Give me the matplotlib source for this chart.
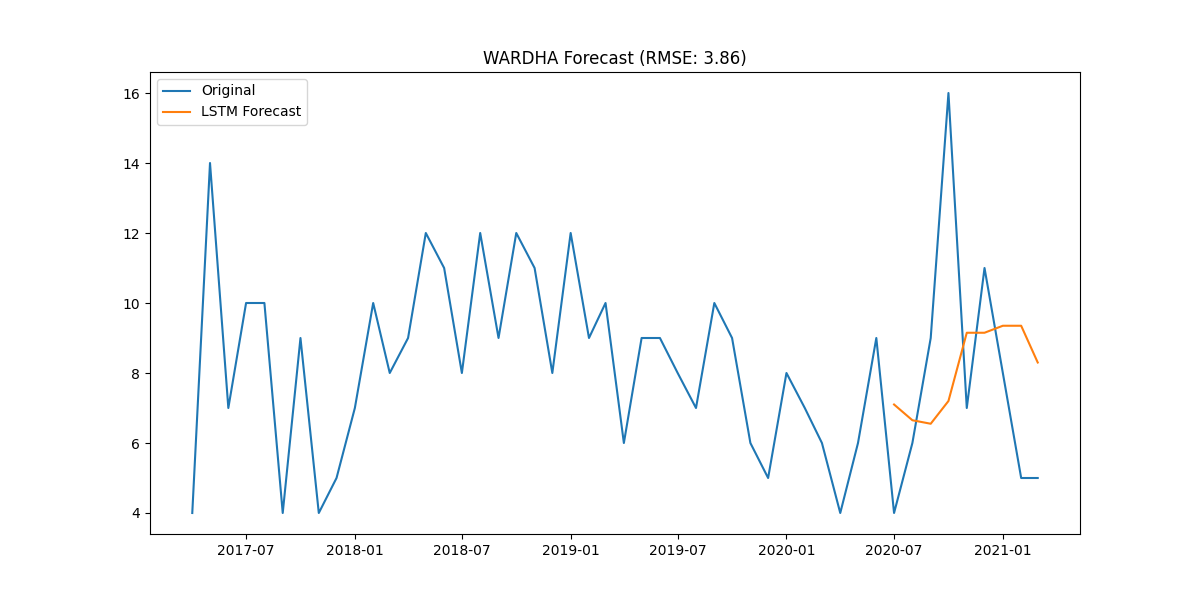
import pandas as pd
import matplotlib
matplotlib.use('Agg')
import matplotlib.pyplot as plt

# monthly counts, 2017-04 .. 2021-03
dates = pd.date_range('2017-04-01', periods=48, freq='MS')
original = [4, 14, 7, 10, 10, 4, 9, 4, 5, 7, 10, 8,
            9, 12, 11, 8, 12, 9, 12, 11, 8, 12, 9, 10,
            6, 9, 9, 8, 7, 10, 9, 6, 5, 8, 7, 6,
            4, 6, 9, 4, 6, 9, 16, 7, 11, 8, 5, 5]

forecast_dates = pd.date_range('2020-07-01', periods=9, freq='MS')
forecast = [7.1, 6.65, 6.55, 7.2, 9.15, 9.15, 9.35, 9.35, 8.3]

plt.figure(figsize=(12, 6), dpi=100)
plt.plot(dates, original, label='Original')
plt.plot(forecast_dates, forecast, label='LSTM Forecast')
plt.title('WARDHA Forecast (RMSE: 3.86)')
plt.legend(loc='upper left')
plt.savefig('out.png')
